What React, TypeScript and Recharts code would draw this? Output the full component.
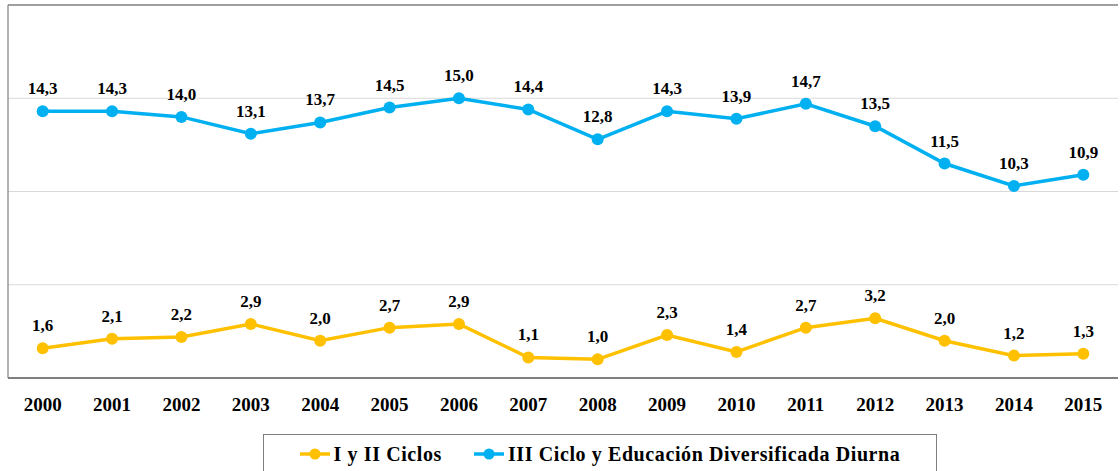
import React from "react";
import {
  LabelList,
  Line,
  LineChart,
  ReferenceLine,
  XAxis,
  YAxis,
} from "recharts";

const years = [
  "2000", "2001", "2002", "2003", "2004", "2005", "2006", "2007",
  "2008", "2009", "2010", "2011", "2012", "2013", "2014", "2015",
];
const ciclosIyII = [1.6, 2.1, 2.2, 2.9, 2.0, 2.7, 2.9, 1.1, 1.0, 2.3, 1.4, 2.7, 3.2, 2.0, 1.2, 1.3];
const cicloIIIDiurna = [14.3, 14.3, 14.0, 13.1, 13.7, 14.5, 15.0, 14.4, 12.8, 14.3, 13.9, 14.7, 13.5, 11.5, 10.3, 10.9];
const yTicks = [0, 5, 10, 15, 20];
const gridValues = [5, 10, 15];

const data = years.map((year, i) => ({
  year,
  ciclos: ciclosIyII[i],
  diurna: cicloIIIDiurna[i],
}));

const SERIF = "Liberation Serif, DejaVu Serif, serif";
const YELLOW = "#FFC000";
const BLUE = "#00B0F0";

const fmt = (v: any) => Number(v).toFixed(1).replace(".", ",");

const LegendMark = ({ color }: { color: string }) => (
  <svg width={30} height={14} style={{ marginRight: 4 }}>
    <line x1={0} y1={7} x2={30} y2={7} stroke={color} strokeWidth={3.5} />
    <circle cx={15} cy={7} r={5.5} fill={color} />
  </svg>
);

export default function App() {
  return (
    <div style={{ position: "absolute", left: 0, top: 0, width: 1120, height: 471, background: "#fff" }}>
      <LineChart
        width={1120}
        height={471}
        data={data}
        margin={{ top: 5, right: 2, left: 7, bottom: 43 }}
      >
        <XAxis
          dataKey="year"
          scale="band"
          height={50}
          tickLine={false}
          tickSize={0}
          tickMargin={20}
          axisLine={{ stroke: "#000", strokeWidth: 1.2 }}
          tick={{ fill: "#000", fontSize: 19, fontWeight: "bold", fontFamily: SERIF }}
          interval={0}
        />
        <YAxis
          width={1}
          domain={[0, 20]}
          ticks={yTicks}
          tick={false}
          tickLine={false}
          axisLine={{ stroke: "#7f7f7f", strokeWidth: 1.2 }}
        />
        {gridValues.map((v) => (
          <ReferenceLine key={v} y={v} stroke="#d9d9d9" strokeWidth={1} />
        ))}
        <ReferenceLine y={20} stroke="#7f7f7f" strokeWidth={1.5} />
        <Line
          dataKey="ciclos"
          stroke={YELLOW}
          strokeWidth={3.5}
          dot={{ r: 6, fill: YELLOW, stroke: YELLOW, strokeWidth: 0 }}
          isAnimationActive={false}
        >
          <LabelList
            dataKey="ciclos"
            position="top"
            offset={17}
            formatter={fmt}
            fill="#000"
            fontSize={17}
            fontWeight="bold"
            fontFamily={SERIF}
          />
        </Line>
        <Line
          dataKey="diurna"
          stroke={BLUE}
          strokeWidth={3.5}
          dot={{ r: 6, fill: BLUE, stroke: BLUE, strokeWidth: 0 }}
          isAnimationActive={false}
        >
          <LabelList
            dataKey="diurna"
            position="top"
            offset={17}
            formatter={fmt}
            fill="#000"
            fontSize={17}
            fontWeight="bold"
            fontFamily={SERIF}
          />
        </Line>
      </LineChart>
      <div
        style={{
          position: "absolute",
          left: 263,
          top: 434,
          width: 674,
          height: 40,
          boxSizing: "border-box",
          border: "1.5px solid #7f7f7f",
          display: "flex",
          alignItems: "center",
          justifyContent: "center",
          fontFamily: SERIF,
          fontWeight: "bold",
          fontSize: 20,
          letterSpacing: 0.6,
          color: "#000",
        }}
      >
        <span style={{ display: "flex", alignItems: "center", marginRight: 32 }}>
          <LegendMark color={YELLOW} />I y II Ciclos
        </span>
        <span style={{ display: "flex", alignItems: "center" }}>
          <LegendMark color={BLUE} />III Ciclo y Educación Diversificada Diurna
        </span>
      </div>
    </div>
  );
}
